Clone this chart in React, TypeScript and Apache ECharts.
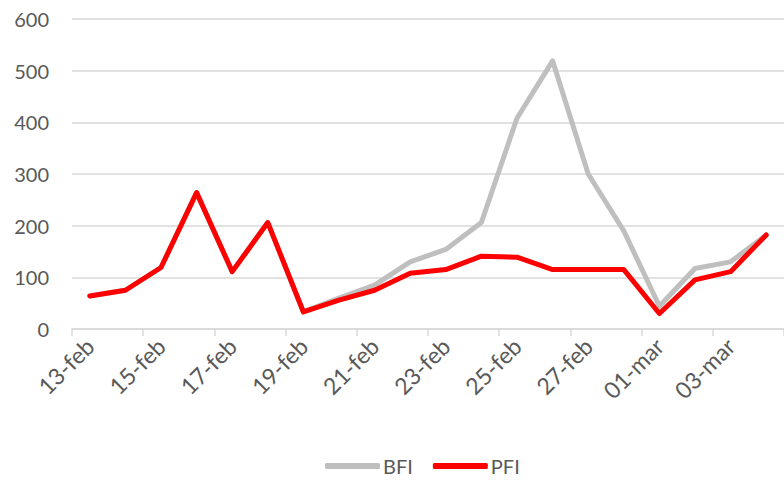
import React, { useEffect, useRef } from "react";
import * as echarts from "echarts";

const categories = [
  "13-feb", "14-feb", "15-feb", "16-feb", "17-feb", "18-feb", "19-feb", "20-feb", "21-feb", "22-feb",
  "23-feb", "24-feb", "25-feb", "26-feb", "27-feb", "28-feb", "01-mar", "02-mar", "03-mar", "04-mar",
];
const bfi = [64, 75, 119, 264, 111, 206, 33, 60, 85, 130, 154, 206, 408, 519, 300, 190, 44, 117, 130, 182];
const pfi = [64, 75, 119, 264, 111, 206, 33, 56, 75, 108, 115, 141, 139, 115, 115, 115, 30, 95, 111, 182];

const FONT = "Lato";

export default function App() {
  const ref = useRef<HTMLDivElement>(null);
  useEffect(() => {
    if (!ref.current) return;
    const chart = echarts.init(ref.current, undefined, { renderer: "svg" });
    chart.setOption({
      animation: false,
      textStyle: { fontFamily: FONT },
      grid: { left: 72, top: 19, width: 720, bottom: 153 },
      legend: {
        bottom: 1,
        left: 320,
        data: ["BFI", "PFI"],
        icon: "roundRect",
        itemWidth: 55,
        itemHeight: 6,
        itemGap: 20,
        textStyle: { fontFamily: FONT, fontSize: 20, color: "#595959", padding: [0, 0, 0, -2] },
      },
      xAxis: {
        type: "category",
        data: categories,
        boundaryGap: true,
        axisLine: { lineStyle: { color: "#d9d9d9", width: 1.5 } },
        axisTick: { show: true, interval: 1, length: 7, lineStyle: { color: "#d9d9d9", width: 1.5 } },
        axisLabel: {
          interval: 1,
          rotate: 45,
          margin: 13,
          fontFamily: FONT,
          fontSize: 23,
          color: "#595959",
        },
      },
      yAxis: {
        type: "value",
        min: 0,
        max: 600,
        interval: 100,
        axisLine: { show: false },
        axisTick: { show: false },
        splitLine: { lineStyle: { color: "#d9d9d9", width: 1.5 } },
        axisLabel: { fontFamily: FONT, fontSize: 20, color: "#595959", margin: 23 },
      },
      series: [
        {
          name: "BFI",
          type: "line",
          data: bfi,
          symbol: "none",
          lineStyle: { color: "#bfbfbf", width: 5, cap: "round", join: "round" },
          itemStyle: { color: "#bfbfbf" },
        },
        {
          name: "PFI",
          type: "line",
          data: pfi,
          symbol: "none",
          lineStyle: { color: "#ff0000", width: 5, cap: "round", join: "round" },
          itemStyle: { color: "#ff0000" },
        },
      ],
    });
    return () => chart.dispose();
  }, []);
  return <div ref={ref} style={{ width: 784, height: 482, position: "absolute", left: 0, top: 0, background: "#fff" }} />;
}
